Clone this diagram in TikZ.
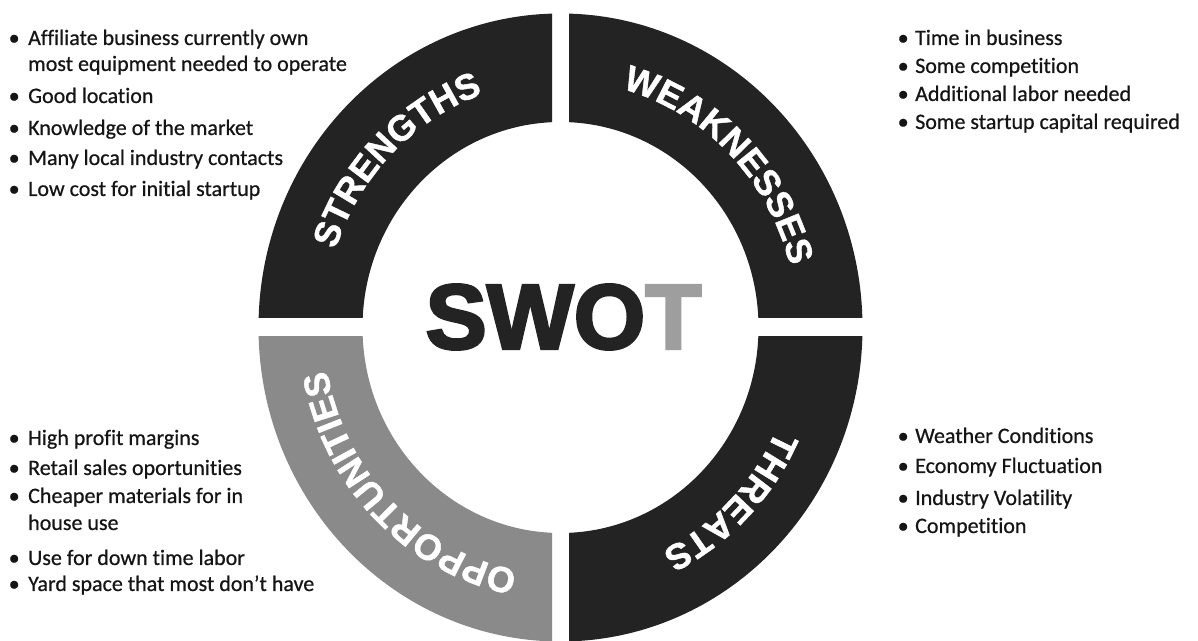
\documentclass[tikz,border=0pt]{standalone}
\usepackage{fontspec}
\setmainfont{Carlito}[Ligatures={NoCommon}, UprightFeatures={FakeBold=0.6}]
\newfontfamily\ringfont[LetterSpace=18, BoldFeatures={FakeBold=1.2}]{Liberation Sans}
\newfontfamily\swotfont[BoldFeatures={FakeBold=3}]{Liberation Sans}
\usetikzlibrary{decorations.text}
\definecolor{ringdark}{HTML}{232323}
\definecolor{ringgray}{HTML}{8A8A8A}
\definecolor{tgray}{HTML}{9E9E9E}
\definecolor{txt}{HTML}{151515}
\newcommand{\bulA}{\makebox[19.5pt][l]{•}}
\newcommand{\bulB}{\makebox[17.5pt][l]{•}}
\newcommand{\ringfmt}{\ringfont\bfseries\fontsize{36}{36}\selectfont\color{white}}
\begin{document}
\begin{tikzpicture}[x=1pt,y=1pt,
  list/.style={anchor=north west, inner sep=0pt, align=left, font=\fontsize{22}{26}\selectfont, text=txt},
  quad/.style={fill=#1, even odd rule},
  ringlabel/.style={decorate, decoration={text along path, text align=center, text={#1}}}
]
\useasboundingbox (0,0) rectangle (1198,640);
\clip (0,0) rectangle (1198,640);
\fill[white] (0,0) rectangle (1198,640);
\coordinate (c) at (560.5,312.5);
% quadrants
\begin{scope}
  \clip (0,322) rectangle (552,640);
  \fill[quad=ringdark] (c) ellipse[x radius=302, y radius=314] (c) ellipse[x radius=198, y radius=205.5];
\end{scope}
\begin{scope}
  \clip (569,322) rectangle (1198,640);
  \fill[quad=ringdark] (c) ellipse[x radius=302, y radius=314] (c) ellipse[x radius=198, y radius=205.5];
\end{scope}
\begin{scope}
  \clip (0,0) rectangle (552,303);
  \fill[quad=ringgray] (c) ellipse[x radius=302, y radius=314] (c) ellipse[x radius=198, y radius=205.5];
\end{scope}
\begin{scope}
  \clip (569,0) rectangle (1198,303);
  \fill[quad=ringdark] (c) ellipse[x radius=302, y radius=314] (c) ellipse[x radius=198, y radius=205.5];
\end{scope}
% ring labels
\path[ringlabel={|\ringfmt|STRENGTHS}] (c) ++(180:237 and 247) arc[start angle=180, end angle=90, x radius=237, y radius=247];
\path[ringlabel={|\ringfmt|WEAKNESSES}] (c) ++(90:237 and 247) arc[start angle=90, end angle=0, x radius=237, y radius=247];
\path[ringlabel={|\ringfmt|THREATS}] (c) ++(0:237 and 247) arc[start angle=0, end angle=-90, x radius=237, y radius=247];
\path[ringlabel={|\ringfmt|OPPORTUNITIES}] (c) ++(270:237 and 247) arc[start angle=270, end angle=180, x radius=237, y radius=247];
% centre title
\node[font=\swotfont\bfseries\fontsize{92}{92}\selectfont, inner sep=0pt, text=ringdark] (swot) at (563.5,323) {SWO\textcolor{tgray}{T}};
% lists
\node[list] (strengths) at (8.5,610.5) {\bulA Affiliate business currently own\\
\hspace*{19.5pt}most equipment needed to operate\\[6pt]
\bulA Good location\\[6pt]
\bulA Knowledge of the market\\[4pt]
\bulA Many local industry contacts\\[5pt]
\bulA Low cost for initial startup};
\node[list] (weaknesses) at (897.5,610.5) {\bulB Time in business\\[2pt]
\bulB Some competition\\[2pt]
\bulB Additional labor needed\\[2pt]
\bulB Some startup capital required};
\node[list] (opportunities) at (8.5,210.5) {\bulA High profit margins\\[4pt]
\bulA Retail sales oportunities\\[2pt]
\bulA Cheaper materials for in\\[1pt]
\hspace*{19.5pt}house use\\[9pt]
\bulA Use for down time labor\\
\bulA Yard space that most don't have};
\node[list] (threats) at (897.5,212.5) {\bulB Weather Conditions\\[4pt]
\bulB Economy Fluctuation\\[6pt]
\bulB Industry Volatility\\[2pt]
\bulB Competition};
\end{tikzpicture}
\end{document}
